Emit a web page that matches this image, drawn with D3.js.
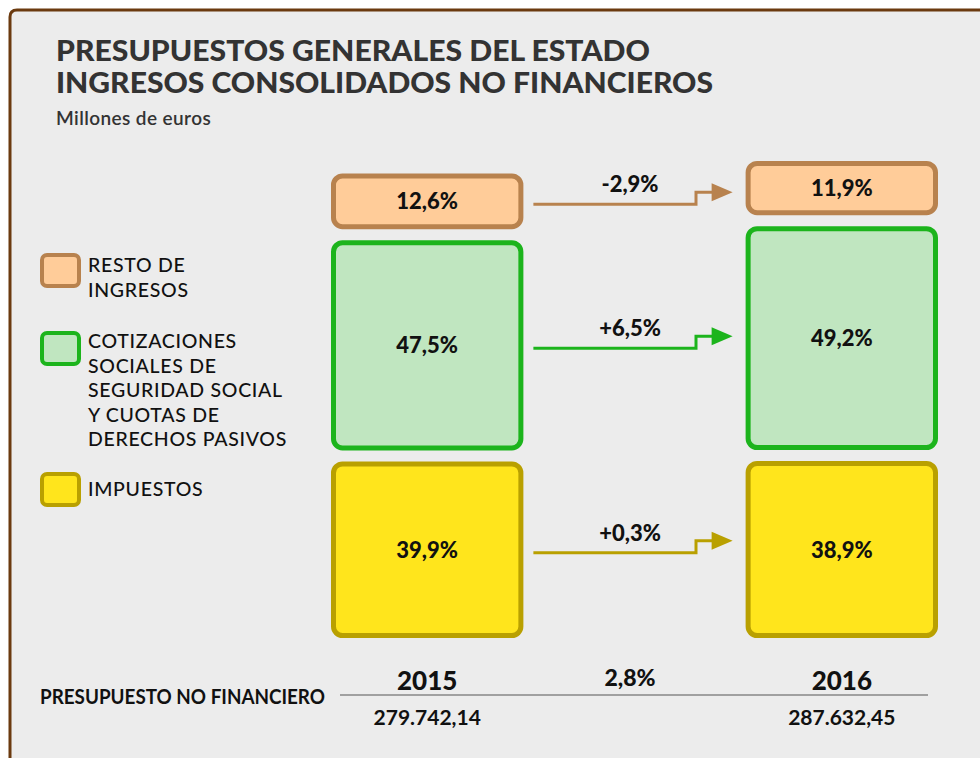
<!DOCTYPE html>
<html>
<head>
<meta charset="utf-8">
<script src="https://cdn.jsdelivr.net/npm/d3@7"></script>
<style>
  html, body { margin: 0; padding: 0; background: #fff; }
  svg { display: block; }
  text { font-family: Lato, "Open Sans", sans-serif; }
</style>
</head>
<body>
<div id="chart"></div>
<script>
// Datos (porcentajes sobre el total de ingresos no financieros)
const years = ["2015", "2016"];
const categories = ["IMPUESTOS", "COTIZACIONES", "RESTO"];   // de abajo a arriba
const share2015 = [39.9, 47.5, 12.6];
const share2016 = [38.9, 49.2, 11.9];
const changeLabels = ["+0,3%", "+6,5%", "-2,9%"];
const totals = [279742.14, 287632.45];
const totalLabels = ["279.742,14", "287.632,45"];
const totalChange = "2,8%";
const legendLines = [
    ["RESTO DE", "INGRESOS"],
    ["COTIZACIONES", "SOCIALES DE", "SEGURIDAD SOCIAL", "Y CUOTAS DE", "DERECHOS PASIVOS"],
    ["IMPUESTOS"]
];

const fills   = ["#ffe51c", "#c0e6c0", "#ffcc99"];
const strokes = ["#b9a000", "#1cb41c", "#b8824e"];

const W = 980, H = 758;
const svg = d3.select("#chart").append("svg")
    .attr("width", W)
    .attr("height", H);

// Marco
svg.append("path")
    .attr("d", "M10,770 L10,17 Q10,10 17,10 L990,10 L990,770 Z")
    .attr("fill", "#ececec")
    .attr("stroke", "#6b3a0f")
    .attr("stroke-width", 3);

// Título
svg.append("text")
    .attr("x", 56).attr("y", 61)
    .attr("font-size", 28).attr("font-weight", 900)
    .attr("fill", "#333")
    .attr("textLength", 594).attr("lengthAdjust", "spacingAndGlyphs")
    .text("PRESUPUESTOS GENERALES DEL ESTADO");
svg.append("text")
    .attr("x", 56).attr("y", 93)
    .attr("font-size", 28).attr("font-weight", 900)
    .attr("fill", "#333")
    .attr("textLength", 657).attr("lengthAdjust", "spacingAndGlyphs")
    .text("INGRESOS CONSOLIDADOS NO FINANCIEROS");
svg.append("text")
    .attr("x", 56).attr("y", 125)
    .attr("font-size", 19).attr("font-weight", 600)
    .attr("letter-spacing", 0.4)
    .attr("fill", "#333")
    .text("Millones de euros");

// Escalas
const x = d3.scaleBand()
    .domain(years)
    .range([331, 938])
    .paddingInner(0.536);

const base = 638, gap = 11;
const y = d3.scaleLinear()
    .domain([0, d3.max(totals)])
    .range([base, base - 455]);

const shares = [share2015, share2016];

// Calcular cajas
const boxes = [];
years.forEach((yr, j) => {
    let cum = 0;
    shares[j].forEach((s, i) => {
        const amount = totals[j] * s / 100;
        const y0 = y(cum) - i * gap;
        const y1 = y(cum + amount) - i * gap;
        boxes.push({ yr, j, i, s, top: y1, bottom: y0 });
        cum += amount;
    });
});

const sw = 5;
svg.selectAll("rect.box")
    .data(boxes)
    .join("rect")
    .attr("class", "box")
    .attr("x", d => x(d.yr) + sw / 2)
    .attr("y", d => d.top + sw / 2)
    .attr("width", x.bandwidth() - sw)
    .attr("height", d => d.bottom - d.top - sw)
    .attr("rx", 9)
    .attr("fill", d => fills[d.i])
    .attr("stroke", d => strokes[d.i])
    .attr("stroke-width", sw);

svg.selectAll("text.pct")
    .data(boxes)
    .join("text")
    .attr("class", "pct")
    .attr("x", d => x(d.yr) + x.bandwidth() / 2)
    .attr("y", d => (d.top + d.bottom) / 2 + 8)
    .attr("text-anchor", "middle")
    .attr("font-size", 22).attr("font-weight", 900)
    .attr("fill", "#111")
    .text(d => d3.format(".1f")(d.s).replace(".", ",") + "%");

// Flechas
const xa0 = x(years[0]) + x.bandwidth() + 10;
const xStep = 696;
const xTip = x(years[1]) - 13;
categories.forEach((c, i) => {
    const b = boxes.find(d => d.j === 0 && d.i === i);
    const ly = (b.top + b.bottom) / 2 + 3;
    const ay = ly - 12;
    svg.append("path")
        .attr("d", `M${xa0},${ly} H${xStep} V${ay} H${xTip - 20}`)
        .attr("fill", "none")
        .attr("stroke", strokes[i])
        .attr("stroke-width", 3);
    svg.append("path")
        .attr("d", `M${xTip - 21},${ay - 9} L${xTip},${ay} L${xTip - 21},${ay + 9} Z`)
        .attr("fill", strokes[i]);
    svg.append("text")
        .attr("x", 630).attr("y", ly - 12)
        .attr("text-anchor", "middle")
        .attr("font-size", 22).attr("font-weight", 900)
        .attr("fill", "#111")
        .text(changeLabels[i]);
});

// Leyenda
const legendY = [253, 331, 472];
const legendText = [272, 348, 496];
[2, 1, 0].forEach((ci, k) => {
    svg.append("rect")
        .attr("x", 42).attr("y", legendY[k] + 2)
        .attr("width", 37).attr("height", 31)
        .attr("rx", 5)
        .attr("fill", fills[ci])
        .attr("stroke", strokes[ci])
        .attr("stroke-width", 4);
    legendLines[k].forEach((line, li) => {
        svg.append("text")
            .attr("x", 88).attr("y", legendText[k] + li * 24.5)
            .attr("font-size", 19.5).attr("font-weight", 500)
            .attr("letter-spacing", 0.7)
            .attr("fill", "#111")
            .text(line);
    });
});

// Presupuesto no financiero
svg.append("line")
    .attr("x1", 340).attr("x2", 928)
    .attr("y1", 695).attr("y2", 695)
    .attr("stroke", "#a0a0a0").attr("stroke-width", 2);
svg.append("text")
    .attr("x", 40).attr("y", 704)
    .attr("font-size", 20).attr("font-weight", 700)
    .attr("fill", "#111")
    .attr("textLength", 285).attr("lengthAdjust", "spacingAndGlyphs")
    .text("PRESUPUESTO NO FINANCIERO");
years.forEach((yr, j) => {
    const cx = x(yr) + x.bandwidth() / 2;
    svg.append("text")
        .attr("x", cx).attr("y", 690)
        .attr("text-anchor", "middle")
        .attr("font-size", 26).attr("font-weight", 900)
        .attr("fill", "#111")
        .text(yr);
    svg.append("text")
        .attr("x", cx).attr("y", 725)
        .attr("text-anchor", "middle")
        .attr("font-size", 21).attr("font-weight", 700)
        .attr("fill", "#111")
        .text(totalLabels[j]);
});
svg.append("text")
    .attr("x", 630).attr("y", 686)
    .attr("text-anchor", "middle")
    .attr("font-size", 23).attr("font-weight", 900)
    .attr("fill", "#111")
    .text(totalChange);
</script>
</body>
</html>
